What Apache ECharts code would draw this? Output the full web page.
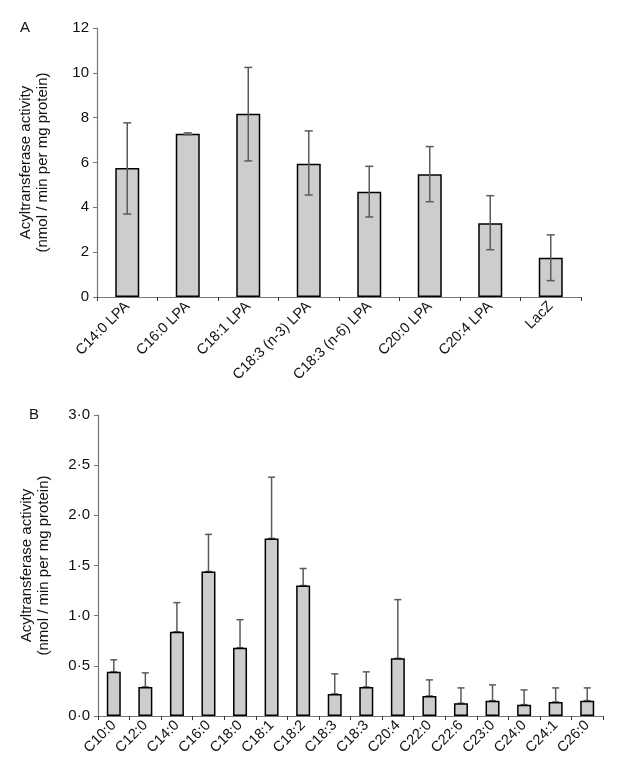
<!DOCTYPE html>
<html><head><meta charset="utf-8">
<script src="https://cdn.jsdelivr.net/npm/echarts@6/dist/echarts.min.js"></script>
<style>html,body{margin:0;padding:0;background:#fff}#c{width:621px;height:774px}</style>
</head><body><div id="c"></div>
<script>
// Panel A data
const catsA = ['C14:0 LPA','C16:0 LPA','C18:1 LPA','C18:3 (n-3) LPA','C18:3 (n-6) LPA','C20:0 LPA','C20:4 LPA','LacZ'];
const valsA = [5.76, 7.28, 8.17, 5.94, 4.70, 5.48, 3.29, 1.75];
const errHiA = [7.77, 7.32, 10.24, 7.41, 5.83, 6.71, 4.52, 2.77];
const errLoA = [3.70, 7.24, 6.07, 4.55, 3.57, 4.25, 2.11, 0.73];
const ticksA = [0, 2, 4, 6, 8, 10, 12];
// Panel B data
const catsB = ['C10:0','C12:0','C14:0','C16:0','C18:0','C18:1','C18:2','C18:3','C18:3','C20:4','C22:0','C22:6','C23:0','C24:0','C24:1','C26:0'];
const valsB = [0.44, 0.29, 0.84, 1.44, 0.68, 1.77, 1.30, 0.22, 0.29, 0.575, 0.20, 0.127, 0.153, 0.113, 0.14, 0.153];
const errHiB = [0.56, 0.43, 1.13, 1.81, 0.96, 2.38, 1.47, 0.42, 0.44, 1.16, 0.36, 0.28, 0.31, 0.26, 0.28, 0.28];
const ticksB = [0, 0.5, 1.0, 1.5, 2.0, 2.5, 3.0];

const FONT = 'Liberation Sans, Arial, sans-serif';
const axisCol = '#777';
const yName = 'Acyltransferase activity\n(nmol / min per mg protein)';

function errItem(capHalf) {
  return function (params, api) {
    const x = api.value(0), hi = api.value(1), lo = api.value(2);
    const pHi = api.coord([x, hi]);
    const pLo = api.coord([x, lo]);
    return {
      type: 'group',
      children: [
        {type: 'line', shape: {x1: pHi[0], y1: pHi[1], x2: pLo[0], y2: pLo[1]}, style: {stroke: '#5a5a5a', lineWidth: 1.5}},
        {type: 'line', shape: {x1: pHi[0]-capHalf, y1: pHi[1], x2: pHi[0]+capHalf, y2: pHi[1]}, style: {stroke: '#5a5a5a', lineWidth: 1.5}},
        {type: 'line', shape: {x1: pLo[0]-capHalf, y1: pLo[1], x2: pLo[0]+capHalf, y2: pLo[1]}, style: {stroke: '#5a5a5a', lineWidth: 1.5}}
      ]
    };
  };
}

const chart = echarts.init(document.getElementById('c'), null, {renderer: 'canvas'});
const xCommon = {
  type: 'category',
  axisLine: {lineStyle: {color: axisCol, width: 1.2}},
  axisTick: {show: true, inside: false, length: 4, lineStyle: {color: '#333'}},
  axisLabel: {rotate: 45, color: '#111', fontFamily: FONT, fontSize: 14.5, interval: 0, margin: 7}
};
const yCommon = {
  type: 'value',
  splitLine: {show: false},
  axisLine: {show: true, lineStyle: {color: axisCol, width: 1.2}},
  axisTick: {show: true, length: 4, lineStyle: {color: axisCol}},
  nameLocation: 'middle', nameRotate: 90,
  nameTextStyle: {fontFamily: FONT, fontSize: 15, color: '#111', lineHeight: 17}
};
chart.setOption({
  animation: false,
  backgroundColor: '#fff',
  graphic: [
    {type: 'text', left: 20, top: 20, style: {text: 'A', font: '15px ' + FONT, fill: '#111'}},
    {type: 'text', left: 29, top: 407, style: {text: 'B', font: '15px ' + FONT, fill: '#111'}}
  ],
  grid: [
    {left: 97, top: 28, width: 484, height: 269},
    {left: 98, top: 415, width: 505, height: 301}
  ],
  xAxis: [
    Object.assign({}, xCommon, {gridIndex: 0, data: catsA}),
    Object.assign({}, xCommon, {gridIndex: 1, data: catsB})
  ],
  yAxis: [
    Object.assign({}, yCommon, {gridIndex: 0, min: ticksA[0], max: ticksA[ticksA.length-1], interval: 2, name: yName, nameGap: 46,
      axisLabel: {color: '#111', fontFamily: FONT, fontSize: 15, margin: 8}}),
    Object.assign({}, yCommon, {gridIndex: 1, min: ticksB[0], max: ticksB[ticksB.length-1], interval: 0.5, name: yName, nameGap: 46,
      axisLabel: {color: '#111', fontFamily: FONT, fontSize: 15, margin: 8,
        formatter: v => v.toFixed(1).replace('.', '\u00b7')}})
  ],
  series: [
    {type: 'bar', xAxisIndex: 0, yAxisIndex: 0, data: valsA, barWidth: 24,
      itemStyle: {color: '#cdcdcd', borderColor: '#000', borderWidth: 1.5}},
    {type: 'custom', xAxisIndex: 0, yAxisIndex: 0, renderItem: errItem(4),
      data: valsA.map((v, i) => [i, errHiA[i], errLoA[i]]), z: 10},
    {type: 'bar', xAxisIndex: 1, yAxisIndex: 1, data: valsB, barWidth: 14,
      itemStyle: {color: '#cdcdcd', borderColor: '#000', borderWidth: 1.5}},
    {type: 'custom', xAxisIndex: 1, yAxisIndex: 1, renderItem: errItem(3.5),
      data: valsB.map((v, i) => [i, errHiB[i], v]), z: 1}
  ]
});
</script>
</body></html>
